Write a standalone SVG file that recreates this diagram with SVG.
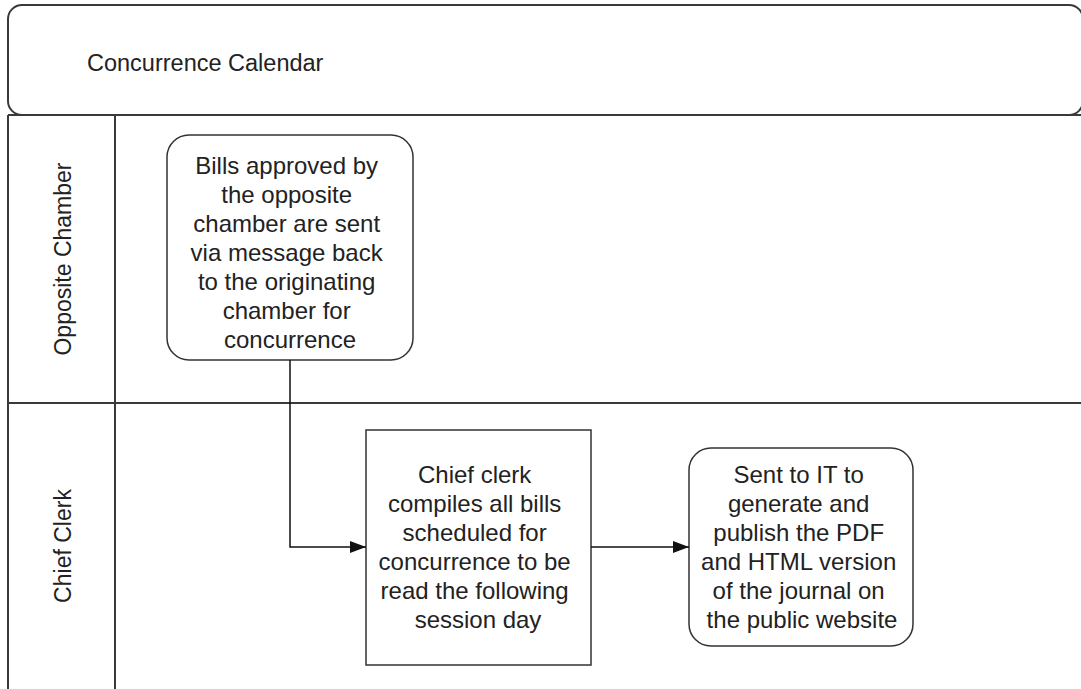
<svg xmlns="http://www.w3.org/2000/svg" width="1081" height="689" viewBox="0 0 1081 689">
  <style>
    .frame { fill: none; stroke: #3a3a3a; stroke-width: 2; }
    .box { fill: #ffffff; stroke: #333333; stroke-width: 1.5; }
    .label { font-family: "Liberation Sans", Arial, sans-serif; font-size: 23px; fill: #222222; }
    .step { font-size: 24px; }
    .mid { text-anchor: middle; }
    .wire { fill: none; stroke: #111111; stroke-width: 1.5; }
  </style>
  <defs>
    <marker id="arrow" markerWidth="16" markerHeight="12" refX="16" refY="6" orient="auto" markerUnits="userSpaceOnUse">
      <path d="M0,0 L16,6 L0,12 Z" fill="#111111"/>
    </marker>
  </defs>
  <rect width="1081" height="689" fill="#ffffff"/>

  <!-- pool header -->
  <g id="pool-header">
    <rect class="frame" x="8" y="5" width="1075" height="110" rx="14" ry="14"/>
    <text class="label" x="87" y="71" style="font-size:23.5px">Concurrence Calendar</text>
  </g>

  <!-- swimlanes -->
  <g id="lanes">
    <path class="frame" d="M8,115 H1081 M8,115 V689 M115,115 V689 M8,403 H1081"/>
  </g>
  <g id="lane-opposite-chamber">
    <text class="label mid" transform="translate(71,259) rotate(-90)">Opposite Chamber</text>
  </g>
  <g id="lane-chief-clerk">
    <text class="label mid" transform="translate(71,546) rotate(-90)">Chief Clerk</text>
  </g>

  <!-- process steps -->
  <g id="node-bills-approved">
    <rect class="box" x="167" y="135" width="246" height="225" rx="22" ry="22"/>
    <text class="label step mid">
      <tspan x="290" y="174">Bills approved by</tspan>
      <tspan x="290" y="203">the opposite</tspan>
      <tspan x="290" y="232">chamber are sent</tspan>
      <tspan x="290" y="261">via message back</tspan>
      <tspan x="290" y="290">to the originating</tspan>
      <tspan x="290" y="319">chamber for</tspan>
      <tspan x="290" y="348">concurrence</tspan>
    </text>
  </g>

  <g id="node-chief-clerk-compiles">
    <rect class="box" x="366" y="430" width="225" height="235"/>
    <text class="label step mid">
      <tspan x="478" y="483">Chief clerk</tspan>
      <tspan x="478" y="512">compiles all bills</tspan>
      <tspan x="478" y="541">scheduled for</tspan>
      <tspan x="478" y="570">concurrence to be</tspan>
      <tspan x="478" y="599">read the following</tspan>
      <tspan x="478" y="628">session day</tspan>
    </text>
  </g>

  <g id="node-sent-to-it">
    <rect class="box" x="689" y="448" width="224" height="198" rx="22" ry="22"/>
    <text class="label step mid">
      <tspan x="802" y="483">Sent to IT to</tspan>
      <tspan x="802" y="512">generate and</tspan>
      <tspan x="802" y="541">publish the PDF</tspan>
      <tspan x="802" y="570">and HTML version</tspan>
      <tspan x="802" y="599">of the journal on</tspan>
      <tspan x="802" y="628">the public website</tspan>
    </text>
  </g>

  <!-- connectors -->
  <g id="connectors">
    <path class="wire" d="M290,360 V547 H366" marker-end="url(#arrow)"/>
    <path class="wire" d="M591,547 H689" marker-end="url(#arrow)"/>
  </g>
</svg>
